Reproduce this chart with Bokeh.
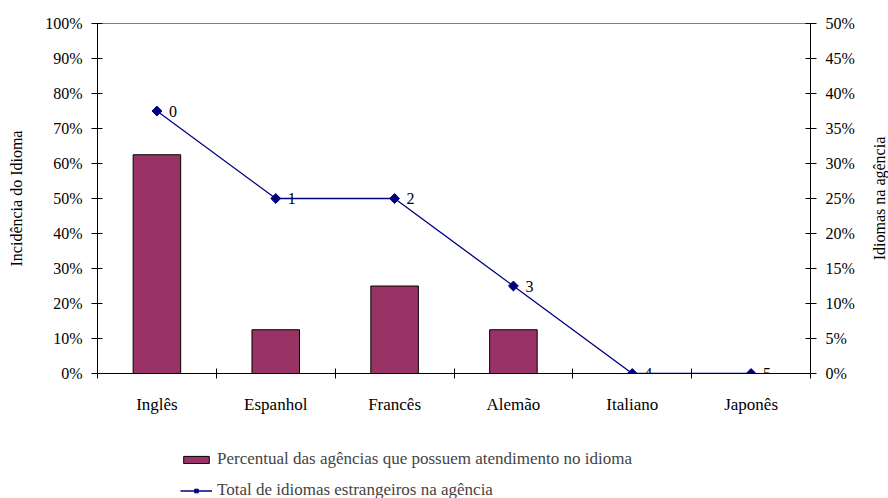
import math
from bokeh.plotting import figure
from bokeh.layouts import column, row
from bokeh.models import (Range1d, LinearAxis, FixedTicker, NumeralTickFormatter,
                          Legend, LegendItem, ColumnDataSource, LabelSet, Label)
from bokeh.core.properties import value
from bokeh.embed import file_html
from bokeh.resources import INLINE

categories = ["Inglês", "Espanhol", "Francês", "Alemão", "Italiano", "Japonês"]
pct_agencias = [0.625, 0.125, 0.25, 0.125, 0.0, 0.0]
total_idiomas = [0.375, 0.25, 0.25, 0.125, 0.0, 0.0]
point_labels = ["0", "1", "2", "3", "4", "5"]
left_ticks = [0.0, 0.1, 0.2, 0.3, 0.4, 0.5, 0.6, 0.7, 0.8, 0.9, 1.0]
right_ticks = [0.0, 0.05, 0.1, 0.15, 0.2, 0.25, 0.3, 0.35, 0.4, 0.45, 0.5]
left_title = "Incidência do Idioma"
right_title = "Idiomas na agência"
legend_labels = ["Percentual das agências que possuem atendimento no idioma",
                 "Total de idiomas estrangeiros na agência"]

FONT = "Liberation Serif"
BAR_COLOR = "#993366"
LINE_COLOR = "#000080"
n = len(categories)
xs = [i + 0.5 for i in range(n)]
src = ColumnDataSource(dict(x=xs, pct=pct_agencias, tot=total_idiomas, lbl=point_labels))

MAIN_W, MAIN_H, STRIP_W = 870, 416, 18

p = figure(width=MAIN_W, height=MAIN_H, x_range=Range1d(0, n), y_range=Range1d(0, 1),
           output_backend="svg", toolbar_location=None,
           x_axis_type=None, y_axis_type=None,
           min_border_left=97, min_border_right=60, min_border_top=23, min_border_bottom=41)
p.extra_y_ranges = {"right": Range1d(0, 0.5)}
p.grid.visible = False
p.outline_line_color = "#808080"

# bottom axis: category names at centres, tick marks at category boundaries
xaxis = LinearAxis(ticker=FixedTicker(ticks=xs, minor_ticks=list(range(n + 1))),
                   major_label_overrides={x: c for x, c in zip(xs, categories)})
xaxis.major_tick_line_color = None
xaxis.minor_tick_in = 5
xaxis.minor_tick_out = 5
xaxis.minor_tick_line_color = "black"
xaxis.major_label_standoff = 15
xaxis.major_label_text_font_size = "17px"
p.add_layout(xaxis, "below")

yl = LinearAxis(ticker=FixedTicker(ticks=left_ticks), formatter=NumeralTickFormatter(format="0%"),
                axis_label=left_title)
p.add_layout(yl, "left")
yr = LinearAxis(y_range_name="right", ticker=FixedTicker(ticks=right_ticks),
                formatter=NumeralTickFormatter(format="0%"))
p.add_layout(yr, "right")

for ax in (xaxis, yl, yr):
    ax.axis_line_color = "black"
    ax.major_label_text_font = FONT
    ax.major_label_text_color = "black"
    ax.axis_label_text_font = FONT
    ax.axis_label_text_font_size = "16px"
    ax.axis_label_text_font_style = "normal"
    ax.axis_label_text_color = "black"
for ax in (yl, yr):
    ax.major_label_text_font_size = "16px"
    ax.major_tick_in = 5
    ax.major_tick_out = 6
    ax.major_tick_line_color = "black"
    ax.minor_tick_line_color = None
    ax.major_label_standoff = 9
yl.axis_label_standoff = 17

bars = p.vbar(x="x", top="pct", width=0.4, source=src, fill_color=BAR_COLOR,
              line_color="black", line_width=1)
ln = p.line(x="x", y="tot", source=src, y_range_name="right", line_color=LINE_COLOR, line_width=1.3)
mk = p.scatter(x="x", y="tot", source=src, y_range_name="right", marker="square", angle=math.pi / 4,
               size=7, fill_color=LINE_COLOR, line_color=LINE_COLOR)

labels = LabelSet(x="x", y="tot", text="lbl", source=src, y_range_name="right",
                  x_offset=12, y_offset=0, text_baseline="middle", text_align="left",
                  text_font=value(FONT), text_font_size="16px", text_color="black")
p.add_layout(labels)

# narrow strip on the right holding the secondary axis title (reads bottom to top)
strip = figure(width=STRIP_W, height=MAIN_H, output_backend="svg", toolbar_location=None,
               x_axis_type=None, y_axis_type=None, x_range=Range1d(0, 1), y_range=Range1d(0, 1),
               min_border_left=0, min_border_right=0, min_border_top=0, min_border_bottom=0)
strip.grid.visible = False
strip.outline_line_color = None
strip.add_layout(Label(x=0.5, y=0.5, text=right_title, angle=math.pi / 2, text_align="center",
                       text_baseline="middle", text_font=FONT, text_font_size="16px",
                       text_color="black"))

# legend panel underneath (same data, drawn outside this panel's view so only the legend shows)
lg = figure(width=MAIN_W + STRIP_W, height=82, output_backend="svg", toolbar_location=None,
            x_axis_type=None, y_axis_type=None, x_range=Range1d(0, n), y_range=Range1d(5, 6),
            min_border_left=0, min_border_right=0, min_border_top=0, min_border_bottom=0)
lg.grid.visible = False
lg.outline_line_color = None
lb = lg.vbar(x="x", top="pct", width=0.4, source=src, fill_color=BAR_COLOR, line_color="black")
ll = lg.line(x="x", y="tot", source=src, line_color=LINE_COLOR, line_width=1.3)
lm = lg.scatter(x="x", y="tot", source=src, marker="square", angle=math.pi / 4, size=8,
                fill_color=LINE_COLOR, line_color=LINE_COLOR)
legend = Legend(items=[LegendItem(label=legend_labels[0], renderers=[lb]),
                       LegendItem(label=legend_labels[1], renderers=[ll, lm])],
                location=(180, -2), orientation="vertical", glyph_width=32, glyph_height=9,
                label_text_font=FONT, label_text_font_size="17px", label_standoff=5,
                label_height=18, padding=0, spacing=11, margin=0,
                border_line_color=None, background_fill_alpha=0)
lg.add_layout(legend)

layout = column(row(p, strip, spacing=0), lg, spacing=0)
open("out.html", "w").write(file_html(layout, INLINE))
